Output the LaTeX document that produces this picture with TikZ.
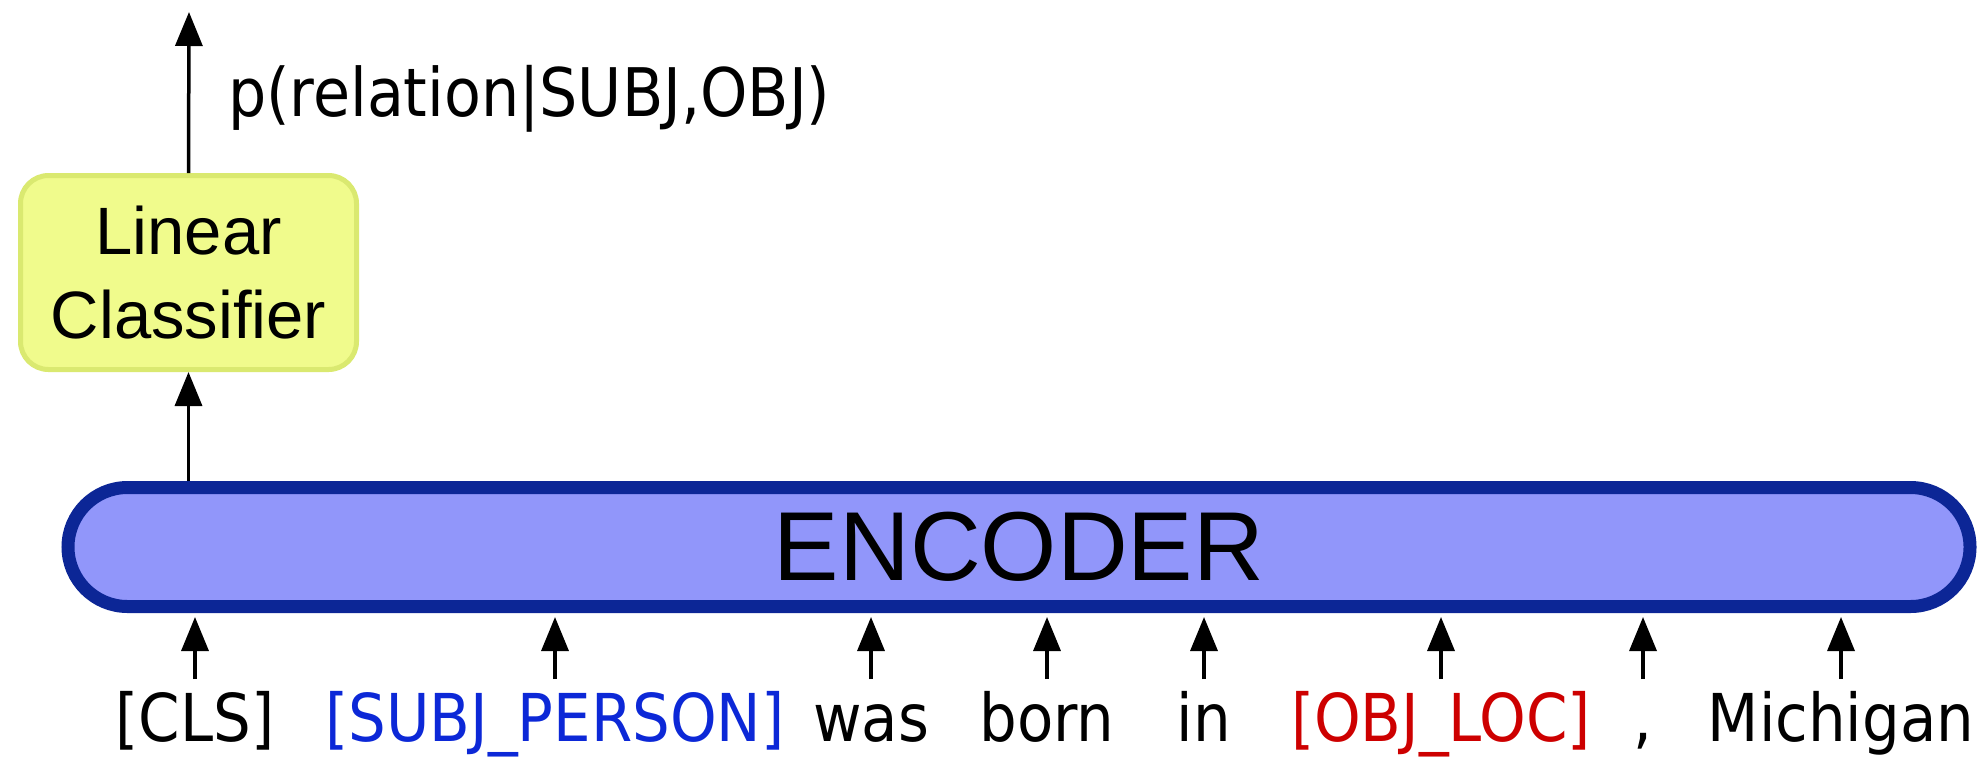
\documentclass[tikz,border=0pt]{standalone}
\usepackage{fontspec}
\usetikzlibrary{arrows.meta}
\newfontfamily\helvfont{Liberation Sans}
\newfontfamily\tokfont{DejaVu Sans Condensed}

\definecolor{encfill}{RGB}{145,150,250}
\definecolor{encline}{RGB}{12,38,150}
\definecolor{clsfill}{RGB}{240,251,140}
\definecolor{clsline}{RGB}{218,233,112}
\definecolor{subjblue}{RGB}{12,40,215}
\definecolor{objred}{RGB}{205,0,0}

\tikzset{
  arr/.style={line width=3.5pt, -{Triangle[length=34pt,width=27pt]}},
  encbox/.style={draw=encline, fill=encfill, line width=13pt, rounded corners=59.5pt,
    minimum width=1902pt, minimum height=119pt, inner sep=0pt,
    font=\helvfont\fontsize{98}{100}\selectfont},
  clsbox/.style={draw=clsline, fill=clsfill, line width=5pt, rounded corners=28pt,
    minimum width=336pt, minimum height=194pt, inner sep=0pt, align=center,
    font=\helvfont\fontsize{67}{84}\selectfont},
  tok/.style={inner sep=0pt, outer sep=0pt, anchor=base,
    font=\tokfont\fontsize{66}{70}\selectfont},
  problabel/.style={inner sep=0pt, outer sep=0pt, anchor=base west,
    font=\tokfont\fontsize{67}{70}\selectfont},
}

\begin{document}
\begin{tikzpicture}[x=1pt, y=-1pt]
  \useasboundingbox (0,0) rectangle (1977,756);

  % encoder and classifier head
  \node[encbox] (enc) at (1019,547) {ENCODER};
  \node[clsbox] (cls) at (188.5,272.5) {Linear\\Classifier};
  \node[problabel] (prob) at (228,116) {p(relation|SUBJ,OBJ)};
  \coordinate (out) at (189,12);

  \draw[arr] (enc.north -| cls) -- (cls.south);
  \draw[arr] (cls.north) -- (out);

  % input tokens
  \coordinate (tokline) at (0,679);
  \node[tok] (t1) at (195,741) {[CLS]};
  \node[tok, text=subjblue] (t2) at (555,741) {[SUBJ\_PERSON]};
  \node[tok] (t3) at (871,741) {was};
  \node[tok] (t4) at (1047,741) {born};
  \node[tok] (t5) at (1204,741) {in};
  \node[tok, text=objred] (t6) at (1441,741) {[OBJ\_LOC]};
  \node[tok] (t7) at (1643,741) {,};
  \node[tok] (t8) at (1841,741) {Michigan};

  \foreach \t in {t1,t2,t3,t4,t5,t6,t7,t8}
    \draw[arr, shorten >=4pt] (\t |- tokline) -- (\t |- enc.south);
\end{tikzpicture}
\end{document}
